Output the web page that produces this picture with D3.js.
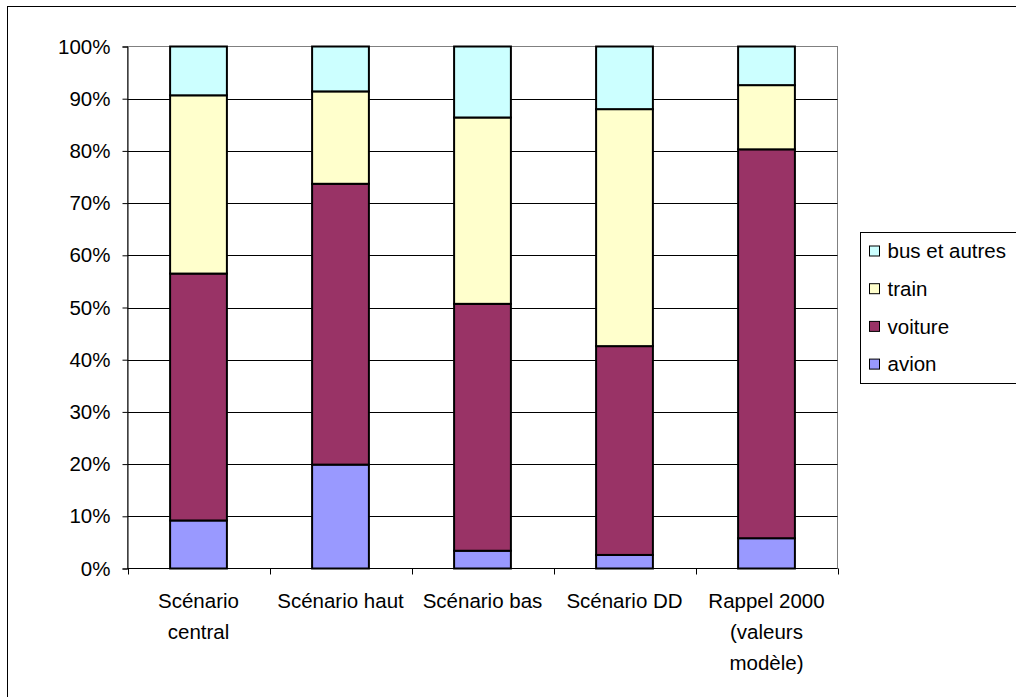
<!DOCTYPE html>
<html>
<head>
<meta charset="utf-8">
<script src="https://cdn.jsdelivr.net/npm/d3@7"></script>
<style>
  html, body { margin: 0; padding: 0; background: #fff; }
  svg { display: block; font-family: Arial, "Liberation Sans", sans-serif; }
</style>
</head>
<body>
<svg id="chart" width="1016" height="697"></svg>
<script>
// Scenario categories (labels broken over lines)
const categories = ["Scénario central", "Scénario haut", "Scénario bas", "Scénario DD", "Rappel 2000 (valeurs modèle)"];
const categoryLines = [["Scénario", "central"], ["Scénario haut"], ["Scénario bas"], ["Scénario DD"], ["Rappel 2000", "(valeurs", "modèle)"]];

// Modal shares (%) per scenario, stacked bottom to top
const avion   = [9.2, 19.9, 3.4, 2.6, 5.8];
const voiture = [47.3, 53.8, 47.3, 40.0, 74.5];
const train   = [34.15, 17.7, 35.7, 45.4, 12.3];
const bus     = [9.35, 8.6, 13.6, 12.0, 7.4];

const seriesNames = ["avion", "voiture", "train", "bus et autres"];
const seriesColors = ["#9999FF", "#993366", "#FFFFCC", "#CCFFFF"];
const yTicks = [0, 10, 20, 30, 40, 50, 60, 70, 80, 90, 100];

const FONT = "20.5px";

const rows = categories.map((c, i) => ({
  cat: c, "avion": avion[i], "voiture": voiture[i], "train": train[i], "bus et autres": bus[i]
}));
const stacked = d3.stack().keys(seriesNames)
  .offset(d3.stackOffsetExpand)(rows);

const svg = d3.select("#chart");

// outer chart frame
svg.append("rect").attr("x", 7.5).attr("y", 6.5).attr("width", 1030).attr("height", 720)
  .attr("fill", "#fff").attr("stroke", "#000").attr("stroke-width", 1);

const plot = { left: 127.5, right: 837.5, top: 46.5, bottom: 568.5 };

const x = d3.scaleBand().domain(categories).range([plot.left, plot.right])
  .paddingInner(0.6).paddingOuter(0.3);
const xOuter = d3.scaleBand().domain(categories).range([plot.left, plot.right]);
const y = d3.scaleLinear().domain([0, 1]).range([plot.bottom, plot.top]);

// plot area border (top/right in grey)
svg.append("rect").attr("x", plot.left).attr("y", plot.top)
  .attr("width", plot.right - plot.left).attr("height", plot.bottom - plot.top)
  .attr("fill", "#fff").attr("stroke", "#808080").attr("stroke-width", 1);

// horizontal gridlines
svg.append("g").selectAll("line").data(yTicks.filter(t => t > 0 && t < 100)).join("line")
  .attr("x1", plot.left).attr("x2", plot.right)
  .attr("y1", d => Math.round(y(d / 100)) + 0.5).attr("y2", d => Math.round(y(d / 100)) + 0.5)
  .attr("stroke", "#000").attr("stroke-width", 1);

// stacked bars
svg.append("g").selectAll("g").data(stacked).join("g")
  .attr("fill", (d, i) => seriesColors[i])
  .selectAll("rect").data(d => d).join("rect")
  .attr("x", d => x(d.data.cat))
  .attr("width", x.bandwidth())
  .attr("y", d => y(d[1]))
  .attr("height", d => y(d[0]) - y(d[1]))
  .attr("stroke", "#000").attr("stroke-width", 2);

// y axis
const yAxis = d3.axisLeft(y).tickValues(yTicks.map(t => t / 100))
  .tickFormat(d => Math.round(d * 100) + "%").tickSize(5).tickPadding(12);
const gy = svg.append("g").attr("transform", `translate(${plot.left},0)`).call(yAxis);
gy.select(".domain").attr("stroke", "#000");
gy.selectAll(".tick line").attr("stroke", "#000");
gy.selectAll(".tick text").attr("font-size", FONT).attr("fill", "#000")
  .attr("font-family", "Arial, 'Liberation Sans', sans-serif");

// x axis line with ticks at category boundaries
svg.append("line").attr("x1", plot.left).attr("x2", plot.right)
  .attr("y1", plot.bottom).attr("y2", plot.bottom).attr("stroke", "#000").attr("stroke-width", 1);
const boundaries = categories.map(c => xOuter(c)).concat([plot.right]);
svg.append("g").selectAll("line").data(boundaries).join("line")
  .attr("x1", d => Math.round(d) + 0.5).attr("x2", d => Math.round(d) + 0.5)
  .attr("y1", plot.bottom).attr("y2", plot.bottom + 6)
  .attr("stroke", "#000");

// category labels
const xl = svg.append("g").selectAll("text").data(categories).join("text")
  .attr("x", d => x(d) + x.bandwidth() / 2)
  .attr("y", 608)
  .attr("text-anchor", "middle")
  .attr("font-size", FONT).attr("fill", "#000");
xl.each(function(d, i) {
  d3.select(this).selectAll("tspan").data(categoryLines[i]).join("tspan")
    .attr("x", x(d) + x.bandwidth() / 2)
    .attr("dy", (t, j) => j === 0 ? 0 : 31)
    .text(t => t);
});

// legend
svg.append("rect").attr("x", 860.5).attr("y", 232.5).attr("width", 200).attr("height", 151)
  .attr("fill", "#fff").attr("stroke", "#000").attr("stroke-width", 1);
const legendOrder = [3, 2, 1, 0];
const lg = svg.append("g").selectAll("g").data(legendOrder).join("g")
  .attr("transform", (d, i) => `translate(869.5, ${251 + i * 37.7})`);
lg.append("rect").attr("x", 0).attr("y", -5).attr("width", 10).attr("height", 10)
  .attr("fill", d => seriesColors[d]).attr("stroke", "#000").attr("stroke-width", 1);
lg.append("text").attr("x", 18).attr("y", 0).attr("dy", "0.35em")
  .attr("font-size", FONT).attr("fill", "#000").text(d => seriesNames[d]);
</script>
</body>
</html>
